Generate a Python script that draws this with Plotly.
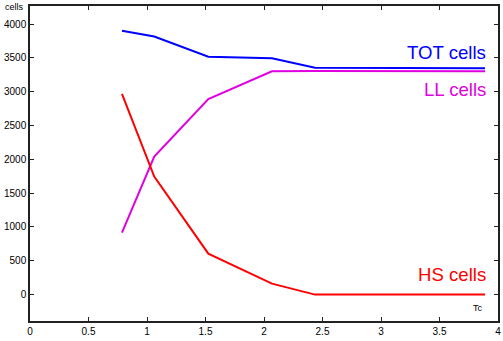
import plotly.graph_objects as go

tc = [0.786, 1.062, 1.524, 2.068, 2.436, 3.889]
tot_cells = [3901, 3815, 3517, 3494, 3352, 3345]
ll_cells = [915, 2041, 2889, 3300, 3305, 3302]
hs_cells = [2967, 1746, 605, 162, 0, 0]

x_ticks = [0, 0.5, 1, 1.5, 2, 2.5, 3, 3.5, 4]
x_tick_labels = ["0", "0.5", "1", "1.5", "2", "2.5", "3", "3.5", "4"]
y_ticks = [0, 500, 1000, 1500, 2000, 2500, 3000, 3500, 4000]

FONT = "Liberation Sans, Arial, sans-serif"

fig = go.Figure()
fig.add_trace(go.Scatter(x=tc, y=tot_cells, mode="lines", line=dict(color="#0000ff", width=2), name="TOT cells"))
fig.add_trace(go.Scatter(x=tc, y=ll_cells, mode="lines", line=dict(color="#e000e0", width=2), name="LL cells"))
fig.add_trace(go.Scatter(x=tc, y=hs_cells, mode="lines", line=dict(color="#ff0000", width=2), name="HS cells"))

fig.update_layout(
    width=503, height=341,
    margin=dict(l=30, r=5, t=6, b=20),
    paper_bgcolor="white", plot_bgcolor="white",
    showlegend=False,
    font=dict(family=FONT, size=10, color="black"),
    xaxis=dict(range=[0, 4], tickvals=x_ticks, ticktext=x_tick_labels, automargin=False,
               showgrid=False, zeroline=False, showline=True, linecolor="#222", linewidth=1.5,
               mirror="ticks", ticks="inside", ticklen=4, tickcolor="#222",
               tickfont=dict(family=FONT, size=10)),
    yaxis=dict(range=[-390, 4266], tickvals=y_ticks, automargin=False,
               showgrid=False, zeroline=False, showline=True, linecolor="#222", linewidth=1.5,
               mirror="ticks", ticks="inside", ticklen=4, tickcolor="#222",
               tickfont=dict(family=FONT, size=10)),
    annotations=[
        dict(x=3.915, y=3581, xref="x", yref="y", text="TOT cells", showarrow=False,
             xanchor="right", yanchor="middle", font=dict(family=FONT, size=18.6, color="#0000ff")),
        dict(x=3.915, y=3029, xref="x", yref="y", text="LL cells", showarrow=False,
             xanchor="right", yanchor="middle", font=dict(family=FONT, size=18.6, color="#e000e0")),
        dict(x=3.915, y=296, xref="x", yref="y", text="HS cells", showarrow=False,
             xanchor="right", yanchor="middle", font=dict(family=FONT, size=18.6, color="#ff0000")),
        dict(x=3.83, y=-192, xref="x", yref="y", text="Tc", showarrow=False,
             xanchor="center", yanchor="middle", font=dict(family=FONT, size=9, color="black")),
        dict(x=0, y=1, xref="paper", yref="paper", text="cells", showarrow=False,
             xanchor="center", yanchor="middle", xshift=-16, yshift=-1,
             font=dict(family=FONT, size=9, color="black")),
    ],
)

fig.write_html("out.html", config={"displayModeBar": False},
               post_script="document.body.style.margin='0';document.body.style.overflow='hidden';")
